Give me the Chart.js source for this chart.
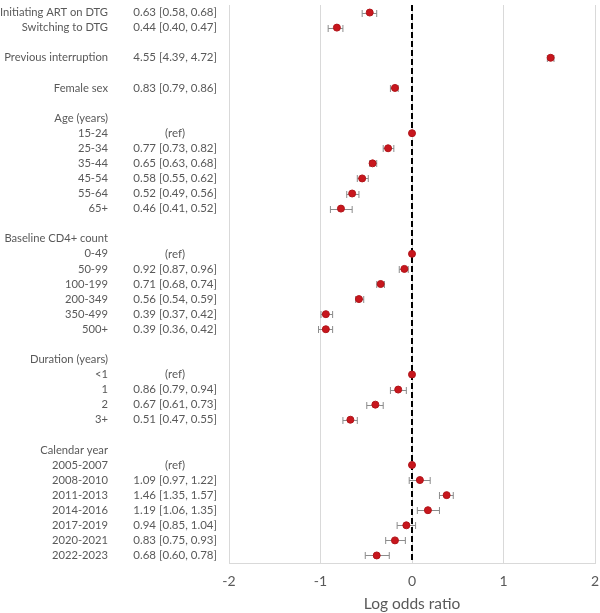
<!DOCTYPE html>
<html>
<head>
<meta charset="utf-8">
<script src="https://cdn.jsdelivr.net/npm/chart.js@4/dist/chart.umd.min.js"></script>
<style>
  html, body { margin: 0; padding: 0; background: #fff; }
  #wrap { width: 600px; height: 613px; }
</style>
</head>
<body>
<div id="wrap"><canvas id="chart"></canvas></div>
<script>
// row labels (blank rows are spacers)
const rowLabels = [
  'Initiating ART on DTG', 'Switching to DTG', '',
  'Previous interruption', '',
  'Female sex', '',
  'Age (years)', '15-24', '25-34', '35-44', '45-54', '55-64', '65+', '',
  'Baseline CD4+ count', '0-49', '50-99', '100-199', '200-349', '350-499', '500+', '',
  'Duration (years)', '<1', '1', '2', '3+', '',
  'Calendar year', '2005-2007', '2008-2010', '2011-2013', '2014-2016', '2017-2019', '2020-2021', '2022-2023'
];

// odds ratios and 95% CI (null = no estimate on that row, 'ref' rows have OR 1)
const oddsRatio = [
  0.63, 0.44, null,
  4.55, null,
  0.83, null,
  null, 1, 0.77, 0.65, 0.58, 0.52, 0.46, null,
  null, 1, 0.92, 0.71, 0.56, 0.39, 0.39, null,
  null, 1, 0.86, 0.67, 0.51, null,
  null, 1, 1.09, 1.46, 1.19, 0.94, 0.83, 0.68
];
const ciLow = [
  0.58, 0.40, null,
  4.39, null,
  0.79, null,
  null, null, 0.73, 0.63, 0.55, 0.49, 0.41, null,
  null, null, 0.87, 0.68, 0.54, 0.37, 0.36, null,
  null, null, 0.79, 0.61, 0.47, null,
  null, null, 0.97, 1.35, 1.06, 0.85, 0.75, 0.60
];
const ciHigh = [
  0.68, 0.47, null,
  4.72, null,
  0.86, null,
  null, null, 0.82, 0.68, 0.62, 0.56, 0.52, null,
  null, null, 0.96, 0.74, 0.59, 0.42, 0.42, null,
  null, null, 0.94, 0.73, 0.55, null,
  null, null, 1.22, 1.57, 1.35, 1.04, 0.93, 0.78
];
// text column shown next to the labels
const orText = [
  '0.63 [0.58, 0.68]', '0.44 [0.40, 0.47]', '',
  '4.55 [4.39, 4.72]', '',
  '0.83 [0.79, 0.86]', '',
  '', '(ref)', '0.77 [0.73, 0.82]', '0.65 [0.63, 0.68]', '0.58 [0.55, 0.62]', '0.52 [0.49, 0.56]', '0.46 [0.41, 0.52]', '',
  '', '(ref)', '0.92 [0.87, 0.96]', '0.71 [0.68, 0.74]', '0.56 [0.54, 0.59]', '0.39 [0.37, 0.42]', '0.39 [0.36, 0.42]', '',
  '', '(ref)', '0.86 [0.79, 0.94]', '0.67 [0.61, 0.73]', '0.51 [0.47, 0.55]', '',
  '', '(ref)', '1.09 [0.97, 1.22]', '1.46 [1.35, 1.57]', '1.19 [1.06, 1.35]', '0.94 [0.85, 1.04]', '0.83 [0.75, 0.93]', '0.68 [0.60, 0.78]'
];
// x axis ticks on the log odds scale
const xTicks = [-2, -1, 0, 1, 2];

const FONT = 'Lato, "Open Sans", sans-serif';
const GREY = '#595959';

const points = [];
oddsRatio.forEach((v, i) => { if (v !== null) points.push({ x: v, y: i }); });

// error bars drawn under the points
const errorBars = {
  id: 'errorBars',
  beforeDatasetsDraw(chart) {
    const ctx = chart.ctx;
    const xs = chart.scales.x, ys = chart.scales.y;
    ctx.save();
    ctx.strokeStyle = '#8c8c8c';
    ctx.lineWidth = 1;
    ciLow.forEach((lo, i) => {
      if (lo === null) return;
      const x1 = xs.getPixelForValue(lo), x2 = xs.getPixelForValue(ciHigh[i]);
      const y = Math.round(ys.getPixelForValue(i)) + 0.5;
      ctx.beginPath();
      ctx.moveTo(x1, y); ctx.lineTo(x2, y);
      ctx.moveTo(x1, y - 3.5); ctx.lineTo(x1, y + 3.5);
      ctx.moveTo(x2, y - 3.5); ctx.lineTo(x2, y + 3.5);
      ctx.stroke();
    });
    ctx.restore();
  }
};

const rowTicks = axis => { axis.ticks = rowLabels.map((_, i) => ({ value: i })); };
// fixed width, no extra top/bottom padding for the label columns
const fitColumn = w => axis => {
  axis.width = w;
  axis.paddingTop = 0;
  axis.paddingBottom = 0;
};

new Chart(document.getElementById('chart'), {
  type: 'scatter',
  data: {
    datasets: [
      {
        data: points,
        backgroundColor: '#c8161d',
        borderColor: '#b01419',
        borderWidth: 1,
        pointRadius: 3.5,
        order: 1
      },
      {
        type: 'line',
        data: [{ x: 1, y: -0.5 }, { x: 1, y: rowLabels.length - 0.5 }],
        borderColor: '#000',
        borderWidth: 2,
        borderDash: [6, 3],
        pointRadius: 0,
        order: 2
      }
    ]
  },
  options: {
    responsive: true,
    maintainAspectRatio: false,
    animation: false,
    layout: { padding: { left: 0, right: 3, top: 0, bottom: 0 } },
    plugins: { legend: { display: false }, tooltip: { enabled: false } },
    scales: {
      x: {
        type: 'logarithmic',
        min: Math.exp(xTicks[0]),
        max: Math.exp(xTicks[xTicks.length - 1]),
        afterBuildTicks: axis => { axis.ticks = xTicks.map(t => ({ value: Math.exp(t) })); },
        afterFit: axis => {
          axis.height = 50;
          axis.paddingLeft = 0;
          axis.paddingRight = 0;
        },
        ticks: {
          callback: v => String(Math.round(Math.log(v))),
          color: GREY,
          font: { family: FONT, size: 14 },
          padding: 10,
          autoSkip: false,
          maxRotation: 0
        },
        grid: { color: '#d9d9d9', drawTicks: false },
        border: { color: '#d9d9d9' },
        title: {
          display: true,
          text: 'Log odds ratio',
          color: GREY,
          font: { family: FONT, size: 15.5 },
          padding: { top: 4, bottom: 0 }
        }
      },
      y: {
        type: 'linear',
        position: 'left',
        weight: 1,
        reverse: true,
        min: -0.5,
        max: rowLabels.length - 0.5,
        afterBuildTicks: rowTicks,
        afterFit: fitColumn(121),
        ticks: {
          callback: v => orText[v],
          crossAlign: 'center',
          padding: 12,
          autoSkip: false,
          color: GREY,
          font: { family: FONT, size: 11.5 }
        },
        grid: { display: false, drawTicks: false },
        border: { display: false }
      },
      yLab: {
        type: 'linear',
        position: 'left',
        weight: 2,
        reverse: true,
        min: -0.5,
        max: rowLabels.length - 0.5,
        afterBuildTicks: rowTicks,
        afterFit: fitColumn(108),
        ticks: {
          callback: v => rowLabels[v],
          crossAlign: 'near',
          padding: 0,
          autoSkip: false,
          color: GREY,
          font: { family: FONT, size: 11.2 }
        },
        grid: { display: false, drawTicks: false },
        border: { display: false }
      }
    }
  },
  plugins: [errorBars]
});
</script>
</body>
</html>
